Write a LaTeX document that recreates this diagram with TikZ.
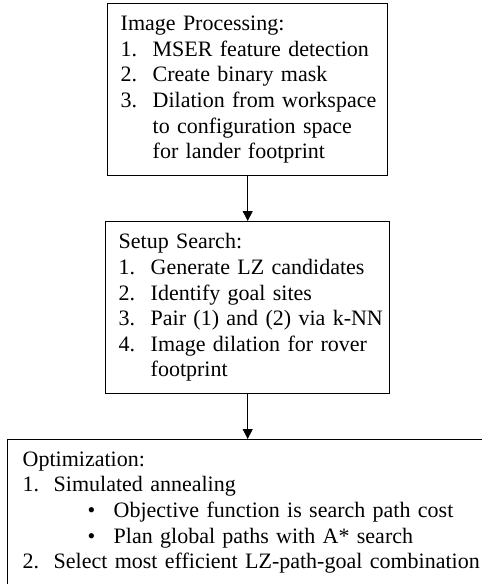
\documentclass[tikz,border=0pt]{standalone}
\usepackage{fontspec}
\setmainfont{Liberation Serif}
\usetikzlibrary{positioning,arrows.meta}

\newcommand{\numitem}[2]{\mbox{\makebox[32pt][l]{#1}#2}}
\newcommand{\contline}[1]{\mbox{\hspace*{32pt}#1}}
\newcommand{\optitem}[2]{\mbox{\makebox[31pt][l]{#1}#2}}
\newcommand{\bulitem}[1]{\mbox{\hspace*{65pt}\makebox[26pt][l]{\textbullet}#1}}

\begin{document}
\begin{tikzpicture}[x=1pt, y=-1pt,
    stepbox/.style={draw, line width=1.4pt, anchor=north west, align=left,
        inner xsep=13pt, inner ysep=0pt, font=\fontsize{22}{25.6}\selectfont},
    flow/.style={-{Triangle[length=10pt,width=10pt]}, line width=0.8pt}]
\useasboundingbox (0, 0) rectangle (482, 584);
\clip (0, 0) rectangle (482, 584);
\node[stepbox, minimum width=280pt, minimum height=172pt, text width=254pt]
    (imgproc) at (107, 3) {Image Processing:\\
    \numitem{1.}{MSER feature detection}\\
    \numitem{2.}{Create binary mask}\\
    \numitem{3.}{Dilation from workspace}\\
    \contline{to configuration space}\\
    \contline{for lander footprint}};
\node[stepbox, minimum width=284pt, minimum height=172pt, text width=258pt]
    (setup) at (105, 221) {Setup Search:\\
    \numitem{1.}{Generate LZ candidates}\\
    \numitem{2.}{Identify goal sites}\\
    \numitem{3.}{Pair (1) and (2) via k-NN}\\
    \numitem{4.}{Image dilation for rover}\\
    \contline{footprint}};
\node[stepbox, inner xsep=15pt, inner ysep=12pt, text width=480pt]
    (optim) at (7, 439) {Optimization:\\
    \optitem{1.}{Simulated annealing}\\
    \bulitem{Objective function is search path cost}\\
    \bulitem{Plan global paths with A* search}\\
    \optitem{2.}{Select most efficient LZ-path-goal combination}\\ \strut};
% connectors
\draw[flow] (imgproc.south) -- (setup.north);
\draw[flow] (setup.south) -- (setup.south |- optim.north);
\end{tikzpicture}
\end{document}
